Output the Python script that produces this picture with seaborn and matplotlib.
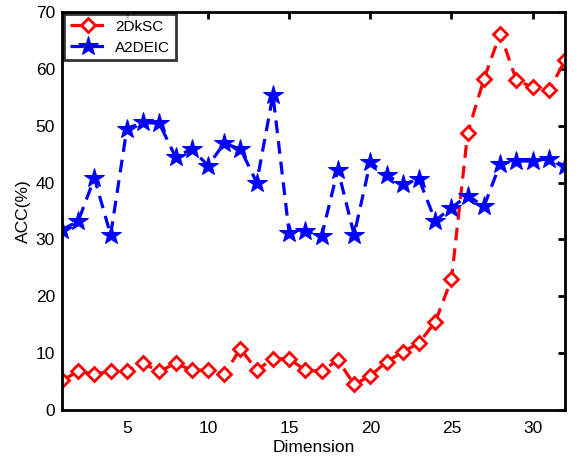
import matplotlib
matplotlib.use("Agg")
import matplotlib.pyplot as plt
import seaborn as sns
import pandas as pd

dims = list(range(1, 33))
acc_2dksc = [5.2, 6.8, 6.3, 6.8, 6.8, 8.2, 6.8, 8.2, 7.0, 7.0, 6.3, 10.8, 7.0, 9.0, 9.0, 7.0,
             6.8, 8.8, 4.5, 6.0, 8.5, 10.2, 11.8, 15.5, 23.0, 48.8, 58.2, 66.2, 58.0, 56.8, 56.2, 61.5]
acc_a2deic = [31.7, 33.2, 40.8, 30.8, 49.5, 50.6, 50.4, 44.5, 45.9, 43.0, 46.9, 45.9, 40.0, 55.4, 31.1, 31.5,
              30.6, 42.3, 30.8, 43.6, 41.3, 39.7, 40.6, 33.3, 35.6, 37.7, 35.8, 43.3, 43.8, 43.8, 44.2, 42.9]
xticks = [5, 10, 15, 20, 25, 30]
yticks = [0, 10, 20, 30, 40, 50, 60, 70]

sns.set_style("white")
plt.rcParams['font.family'] = ['Liberation Sans', 'DejaVu Sans']
plt.rcParams['text.color'] = 'black'
plt.rcParams['axes.labelcolor'] = 'black'
plt.rcParams['xtick.color'] = 'black'
plt.rcParams['ytick.color'] = 'black'

df1 = pd.DataFrame({"Dimension": dims, "ACC": acc_2dksc})
df2 = pd.DataFrame({"Dimension": dims, "ACC": acc_a2deic})

fig = plt.figure(figsize=(5.79, 4.63), dpi=100)
ax = fig.add_axes([0.107, 0.1145, 0.869, 0.8595])

sns.lineplot(data=df1, x="Dimension", y="ACC", ax=ax, color="red", linestyle=(0, (4, 2.5)), linewidth=2.3,
             marker="D", markersize=7.5, markerfacecolor="white", markeredgecolor="red", markeredgewidth=2.0,
             label="2DkSC")
sns.lineplot(data=df2, x="Dimension", y="ACC", ax=ax, color="blue", linestyle=(0, (4, 2.5)), linewidth=2.3,
             marker="*", markersize=15, markerfacecolor="blue", markeredgecolor="blue",
             label="A2DEIC")

ax.set_xlim(1, 32)
ax.set_ylim(0, 70)
ax.set_xticks(xticks)
ax.set_yticks(yticks)
ax.set_xlabel("Dimension", fontsize=12.5, labelpad=3, color="black")
ax.set_ylabel("ACC(%)", fontsize=12.5, labelpad=3, color="black")
ax.tick_params(direction="in", length=5, width=2, labelsize=12.5, top=True, right=True, pad=5,
               colors="black")
ax.tick_params(axis="x", pad=8)
for s in ax.spines.values():
    s.set_linewidth(2)
    s.set_color("black")

leg = ax.legend(loc="upper left", fontsize=11, frameon=True, fancybox=False, borderaxespad=0.15,
                handlelength=2.4, borderpad=0.35, labelspacing=0.45, handletextpad=0.6)
leg.get_frame().set_edgecolor("black")
leg.get_frame().set_linewidth(2)
for t in leg.get_texts():
    t.set_color("black")

fig.savefig("out.png", dpi=100)
